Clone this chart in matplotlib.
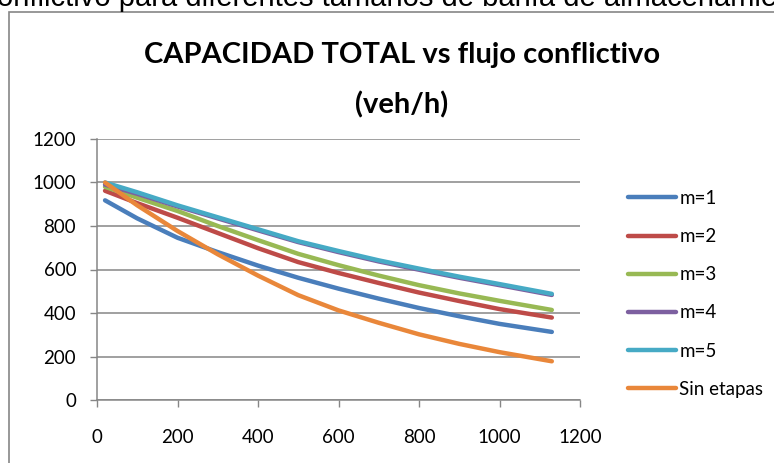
import matplotlib
matplotlib.use('Agg')
import matplotlib.pyplot as plt
from matplotlib.patches import Rectangle

# ── Data ─────────────────────────────────────────────────────────────
flujo = [20, 100, 200, 300, 400, 500, 600, 700, 800, 900, 1000, 1130]
m1 = [918, 835, 746, 680, 618, 562, 512, 466, 423, 385, 350, 313]
m2 = [962, 905, 838, 768, 698, 634, 584, 538, 494, 455, 418, 379]
m3 = [980, 930, 869, 800, 735, 672, 620, 572, 528, 490, 456, 414]
m4 = [990, 948, 890, 835, 780, 726, 680, 637, 599, 562, 528, 483]
m5 = [1000, 955, 895, 840, 785, 730, 685, 642, 604, 567, 533, 488]
sin_etapas = [1000, 895, 777, 670, 572, 482, 412, 355, 302, 258, 220, 178]

labels = ["m=1", "m=2", "m=3", "m=4", "m=5", "Sin etapas"]
series = [m1, m2, m3, m4, m5, sin_etapas]
colors = ["#4a7ebb", "#be4b48", "#98b954", "#7d60a0", "#46aac5", "#e9873a"]

xticks = [0, 200, 400, 600, 800, 1000, 1200]
yticks = [0, 200, 400, 600, 800, 1000, 1200]

plt.rcParams['font.family'] = ['Lato', 'DejaVu Sans']

fig = plt.figure(figsize=(7.74, 4.63), dpi=100)
ax = fig.add_axes([97/774, 1 - 400/463, (580 - 97)/774, (400 - 139)/463])

lines = []
for lab, vals, c in zip(labels, series, colors):
    ln, = ax.plot(flujo, vals, color=c, lw=3.2, solid_capstyle='round', label=lab)
    lines.append(ln)

ax.set_xlim(0, 1200)
ax.set_ylim(0, 1200)
ax.set_xticks(xticks)
ax.set_yticks(yticks)
ax.tick_params(axis='both', colors='#868686', labelcolor='black', labelsize=13.5,
               length=5, width=1)
ax.tick_params(axis='x', pad=16)
ax.tick_params(axis='y', pad=10)
ax.grid(True, axis='y', color='#868686', lw=1.1)
ax.set_axisbelow(True)
for s in ['top', 'right']:
    ax.spines[s].set_visible(False)
for s in ['left', 'bottom']:
    ax.spines[s].set_color('#868686')
    ax.spines[s].set_linewidth(1.1)

fig.text(402/774, 1 - 80/463, "CAPACIDAD TOTAL vs flujo conflictivo\n(veh/h)",
         ha='center', va='center', fontsize=21, fontweight='bold', linespacing=2.05)

fig.legend(handles=lines, loc='upper left', bbox_to_anchor=(611/774, 1 - 173/463),
           frameon=False, fontsize=13.5, handlelength=2.55, handletextpad=0.2,
           labelspacing=1.13)

# chart frame and the clipped caption above it
fig.patches.append(Rectangle((8.5/774, -0.2), 1.2, 1 - 11.5/463 + 0.2,
                             transform=fig.transFigure, fill=False,
                             edgecolor='#868686', lw=1.2))
fig.text(-0.004, 1 - 6/463, "onflictivo para diferentes tamaños de bahía de almacenamie",
         ha='left', va='baseline', fontsize=21, family='Liberation Sans')

fig.savefig("out.png", dpi=100)
